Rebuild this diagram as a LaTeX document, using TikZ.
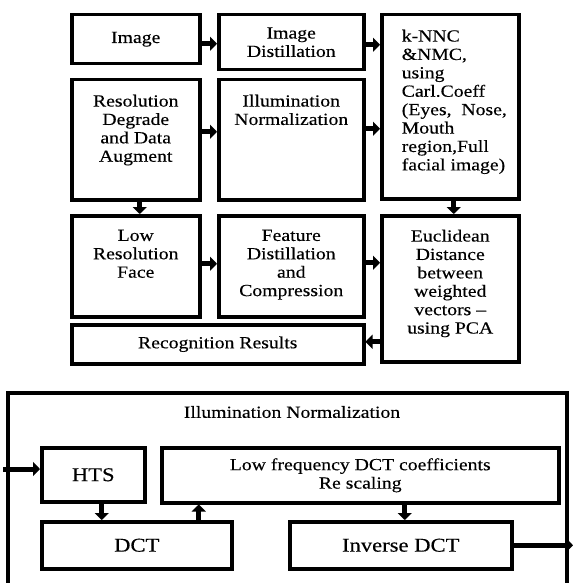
\documentclass[tikz,border=0pt]{standalone}
\usepackage{fontspec}
\setmainfont{Liberation Serif}[FakeStretch=1.16,FakeBold=0.3]
\usetikzlibrary{arrows.meta}
\newcommand\fsA{\fontsize{17pt}{18.4pt}\selectfont}
\newcommand\fsB{\fontsize{19.5pt}{22pt}\selectfont}
\newcommand\topbox[4]{\begin{minipage}[c][#2][t]{#1}\vspace*{#3}\centering #4\end{minipage}}
\begin{document}
\begin{tikzpicture}[x=1pt,y=-1pt,
  box/.style={draw, line width=3.5pt, inner sep=0pt, anchor=north west, font=\fsA, align=center},
  pbox/.style={draw, line width=3.5pt, inner sep=0pt, anchor=north west, font=\fsA},
  arr/.style={line width=5pt, -{Triangle[length=7pt,width=14pt]}},
  frame/.style={line width=3.5pt}]
\useasboundingbox (0,0) rectangle (573,583);

% ---------- upper diagram ----------
\node[box, minimum width=128pt, minimum height=49pt] (img) at (70,13) {Image};
\node[box, minimum width=145pt, minimum height=55pt] (dist) at (217,13) {Image\\Distillation};
\node[pbox] (knn) at (380,13) {\begin{minipage}[c][184pt][t]{137pt}\vspace*{15pt}\raggedright\leftskip=20pt
k-NNC\\ \&NMC,\\ using\\ Carl.Coeff\\ (Eyes,\ \ Nose,\\ Mouth\\ region,Full\\ facial image)\end{minipage}};
\node[pbox] (res) at (70,78) {\topbox{128pt}{120pt}{15pt}{Resolution\\ Degrade\\ and Data\\ Augment}};
\node[pbox] (illum) at (217,78) {\topbox{145pt}{120pt}{15pt}{Illumination\\ Normalization}};
\node[pbox] (low) at (70,214) {\topbox{128pt}{101pt}{14pt}{Low\\ Resolution\\ Face}};
\node[pbox] (feat) at (217,214) {\topbox{145pt}{101pt}{14pt}{Feature\\ Distillation\\ and\\ Compression}};
\node[pbox] (eucl) at (380,214) {\topbox{137pt}{146pt}{14pt}{Euclidean\\ Distance\\ between\\ weighted\\ vectors --\\ using PCA}};
\node[box, minimum width=292pt, minimum height=39pt] (recog) at (70,323) {Recognition Results};

\draw[arr] ([yshift=-4.5pt]img.east) -- ([yshift=-4.5pt]img.east -| dist.west);
\draw[arr] ([yshift=-2.5pt]dist.east) -- ([yshift=-2.5pt]dist.east -| knn.west);
\draw[arr] ([yshift=8pt]res.east) -- ([yshift=8pt]res.east -| illum.west);
\draw[arr] ([yshift=11pt]illum.east) -- ([yshift=11pt]illum.east -| knn.west);
\draw[arr] ([xshift=4pt]res.south) -- ([xshift=4pt]res.south |- low.north);
\draw[arr] ([xshift=3.5pt]knn.south) -- ([xshift=3.5pt]knn.south |- eucl.north);
\draw[arr] ([yshift=2.5pt]low.east) -- ([yshift=2.5pt]low.east -| feat.west);
\draw[arr] ([yshift=3.5pt]feat.east) -- ([yshift=3.5pt]feat.east -| eucl.west);
\draw[arr] ([yshift=2.5pt]recog.east -| eucl.west) -- ([yshift=2.5pt]recog.east);

% ---------- lower diagram ----------
\draw[frame] (8,583) -- (8,393) -- (567,393) -- (567,583);
\node[font=\fsA] (title) at (292,412) {Illumination Normalization};
\node[box, font=\fsB, minimum width=103pt, minimum height=54pt] (hts) at (40,446) {HTS};
\node[box, minimum width=397pt, minimum height=55pt] (lowf) at (160,446) {Low frequency DCT coefficients\\Re scaling};
\node[box, font=\fsB, minimum width=190pt, minimum height=47pt] (dct) at (40,520) {DCT};
\node[box, font=\fsB, minimum width=222pt, minimum height=47pt] (inv) at (288,520) {Inverse DCT};

\coordinate (inL) at (3,469);
\coordinate (outR) at (573,543);
\draw[arr] (inL) -- (inL -| hts.west);
\draw[arr] ([xshift=8.5pt]hts.south) -- ([xshift=8.5pt]hts.south |- dct.north);
\draw[arr] ([xshift=62pt]dct.north) -- ([xshift=62pt]dct.north |- lowf.south);
\draw[arr] ([xshift=4pt]inv.north |- lowf.south) -- ([xshift=4pt]inv.north);
\draw[arr] (inv.east) -- (inv.east -| outR);
\end{tikzpicture}
\end{document}
